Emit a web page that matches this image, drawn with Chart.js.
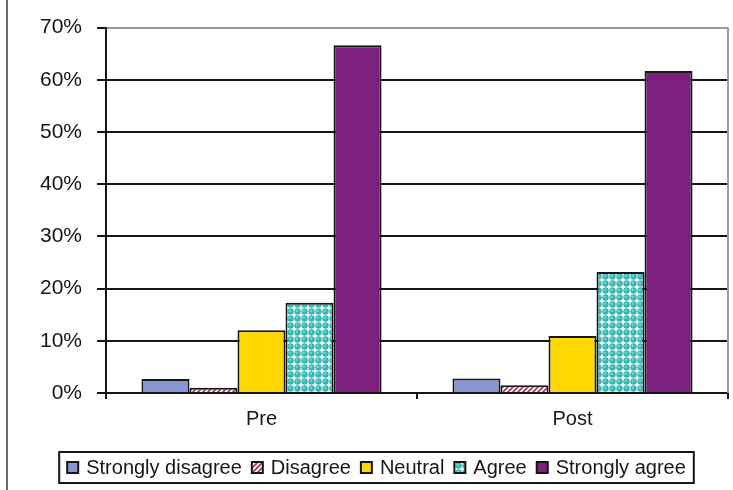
<!DOCTYPE html>
<html>
<head>
<meta charset="utf-8">
<title>Responses before and after</title>
<script src="https://cdn.jsdelivr.net/npm/chart.js@4.4.1/dist/chart.umd.min.js"></script>
<style>
  html, body { margin: 0; padding: 0; background: #ffffff; }
  #wrap { width: 733px; height: 490px; position: relative; }
</style>
</head>
<body>
<div id="wrap"><canvas id="chart" width="733" height="490"></canvas></div>
<script>
// Survey periods
const categories = ['Pre', 'Post'];

// Share of responses (%) for each answer
const stronglyDisagree = [2.7, 2.8];
const disagree = [1.0, 1.5];
const neutral = [12.0, 10.9];
const agree = [17.3, 23.2];
const stronglyAgree = [66.6, 61.7];

// Value axis ticks (%)
const yTicks = [0, 10, 20, 30, 40, 50, 60, 70];

const FONT = '"Liberation Sans", Arial, sans-serif';
const INK = '#161616';

// Diagonal hatch fill
function stripePattern() {
  const c = document.createElement('canvas');
  c.width = 5; c.height = 5;
  const g = c.getContext('2d');
  g.fillStyle = '#ffffff';
  g.fillRect(0, 0, 5, 5);
  g.strokeStyle = '#b8336a';
  g.lineWidth = 1.9;
  g.beginPath();
  g.moveTo(-1, 6); g.lineTo(6, -1);
  g.moveTo(-1, 1); g.lineTo(1, -1);
  g.moveTo(4, 6); g.lineTo(6, 4);
  g.stroke();
  return g.createPattern(c, 'repeat');
}

// Bubble fill
function bubblePattern() {
  const c = document.createElement('canvas');
  c.width = 7; c.height = 7;
  const g = c.getContext('2d');
  g.fillStyle = '#ffffff';
  g.fillRect(0, 0, 7, 7);
  g.fillStyle = '#36b6b4';
  g.beginPath(); g.arc(3.5, 3.5, 3.2, 0, Math.PI * 2); g.fill();
  g.fillStyle = '#74d4d2';
  g.beginPath(); g.arc(2.8, 2.8, 1.3, 0, Math.PI * 2); g.fill();
  return g.createPattern(c, 'repeat');
}

// Frame line at the left edge, plot box edges, and the boxed legend
const decorations = {
  id: 'decorations',
  beforeDatasetsDraw(chart) {
    const { ctx, chartArea: a } = chart;
    ctx.save();
    ctx.strokeStyle = '#9a9a9a';
    ctx.lineWidth = 2;
    ctx.beginPath();
    ctx.moveTo(a.right, a.top);
    ctx.lineTo(a.right, a.bottom);
    ctx.stroke();
    ctx.restore();
  },
  afterDraw(chart) {
    const ctx = chart.ctx;
    ctx.save();
    // outer frame edge
    ctx.strokeStyle = '#6e6e6e';
    ctx.lineWidth = 2;
    ctx.beginPath();
    ctx.moveTo(7, 0);
    ctx.lineTo(7, 490);
    ctx.stroke();

    // legend
    ctx.font = '20px ' + FONT;
    const box = 11, gapText = 8, gapItem = 10;
    const items = chart.data.datasets.map(ds => ({
      label: ds.label, fill: ds.backgroundColor,
      w: box + gapText + ctx.measureText(ds.label).width
    }));
    const total = items.reduce((s, it) => s + it.w, 0) + gapItem * (items.length - 1);
    const cx = 376.5, cy = 467.5;
    let x = cx - total / 2;
    ctx.strokeStyle = INK;
    ctx.lineWidth = 2;
    ctx.strokeRect(x - 8, 452, total + 16, 31);
    ctx.textBaseline = 'middle';
    items.forEach(it => {
      ctx.fillStyle = it.fill;
      ctx.fillRect(x, cy - box / 2, box, box);
      ctx.strokeStyle = INK;
      ctx.lineWidth = 2;
      ctx.strokeRect(x, cy - box / 2, box, box);
      ctx.fillStyle = INK;
      ctx.fillText(it.label, x + box + gapText, cy + 1);
      x += it.w + gapItem;
    });
    ctx.restore();
  }
};

const barStyle = { borderColor: INK, borderWidth: 2 };

new Chart(document.getElementById('chart'), {
  type: 'bar',
  data: {
    labels: categories,
    datasets: [
      { label: 'Strongly disagree', data: stronglyDisagree, backgroundColor: '#8797d3', ...barStyle },
      { label: 'Disagree', data: disagree, backgroundColor: stripePattern(), ...barStyle },
      { label: 'Neutral', data: neutral, backgroundColor: '#ffd800', ...barStyle },
      { label: 'Agree', data: agree, backgroundColor: bubblePattern(), ...barStyle },
      { label: 'Strongly agree', data: stronglyAgree, backgroundColor: '#7d1f7d', ...barStyle }
    ]
  },
  options: {
    responsive: false,
    animation: false,
    devicePixelRatio: 1,
    layout: { padding: { left: 0, right: 5, top: 24, bottom: 57 } },
    datasets: { bar: { categoryPercentage: 0.772, barPercentage: 1.0 } },
    plugins: {
      legend: { display: false },
      tooltip: { enabled: false }
    },
    scales: {
      x: {
        offset: true,
        grid: { display: true, drawOnChartArea: false, offset: true, color: INK, tickLength: 6, lineWidth: 2 },
        border: { display: true, color: INK, width: 2 },
        ticks: { color: INK, font: { family: FONT, size: 20 }, padding: 8 },
        afterFit(scale) { scale.height = 40; }
      },
      y: {
        min: 0,
        max: 70,
        afterBuildTicks(scale) { scale.ticks = yTicks.map(v => ({ value: v })); },
        grid: {
          color: c => (c.tick && c.tick.value === 70 ? '#9a9a9a' : INK),
          tickColor: INK,
          tickLength: 9,
          lineWidth: 2
        },
        border: { display: true, color: INK, width: 2 },
        ticks: {
          color: INK,
          font: { family: FONT, size: 21 },
          padding: 15,
          callback: v => v + '%'
        },
        afterFit(scale) { scale.width = 106; }
      }
    }
  },
  plugins: [decorations]
});
</script>
</body>
</html>
